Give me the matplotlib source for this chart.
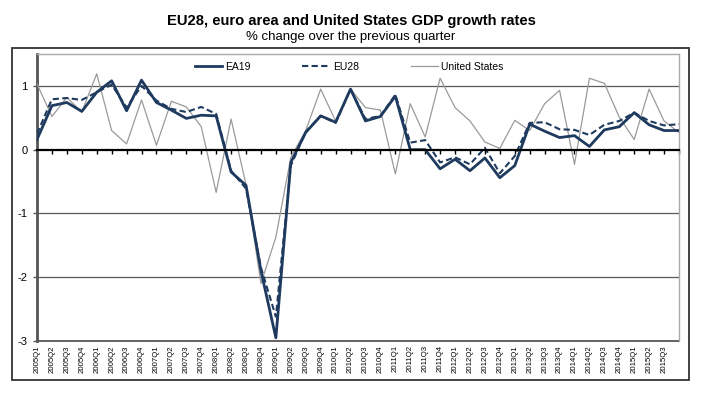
import matplotlib.pyplot as plt
from matplotlib.patches import Rectangle

plt.rcParams['font.family'] = ['Liberation Sans', 'DejaVu Sans']

# quarters 2005Q1 .. 2015Q4 (last one has no label in the original)
quarters = [f'{y}Q{q}' for y in range(2005, 2016) for q in range(1, 5)]
tick_labels = quarters[:-1] + ['']

# % change over previous quarter
ea19 = [0.16, 0.69, 0.74, 0.60, 0.90, 1.08, 0.61, 1.09, 0.74, 0.62, 0.49, 0.54,
        0.53, -0.35, -0.56, -1.90, -2.95, -0.20, 0.27, 0.53, 0.43, 0.95, 0.45, 0.52,
        0.84, 0.00, 0.00, -0.30, -0.15, -0.33, -0.13, -0.44, -0.25, 0.40, 0.29, 0.19,
        0.22, 0.05, 0.31, 0.36, 0.58, 0.39, 0.30, 0.30]
eu28 = [0.25, 0.79, 0.81, 0.78, 0.90, 1.02, 0.66, 1.00, 0.77, 0.64, 0.59, 0.67,
        0.56, -0.33, -0.61, -1.85, -2.62, -0.25, 0.28, 0.53, 0.42, 0.95, 0.48, 0.53,
        0.86, 0.11, 0.15, -0.20, -0.12, -0.23, 0.03, -0.37, -0.10, 0.42, 0.43, 0.32,
        0.31, 0.23, 0.39, 0.45, 0.58, 0.45, 0.38, 0.40]
us = [1.03, 0.52, 0.82, 0.59, 1.19, 0.30, 0.09, 0.78, 0.07, 0.76, 0.67, 0.36,
      -0.67, 0.48, -0.55, -2.10, -1.37, -0.12, 0.30, 0.95, 0.45, 0.95, 0.66, 0.62,
      -0.38, 0.72, 0.20, 1.12, 0.66, 0.45, 0.12, 0.02, 0.46, 0.30, 0.72, 0.93,
      -0.23, 1.12, 1.04, 0.51, 0.16, 0.95, 0.45, 0.27]

x = list(range(len(quarters)))
navy = '#1f3a5f'

fig = plt.figure(figsize=(7.02, 3.99), dpi=100)
ax = fig.add_axes([37 / 702, 1 - 341 / 399, 642 / 702, 287 / 399])

# outer frame around the chart (below the titles)
fig.patches.append(Rectangle((12 / 702, 1 - 380 / 399), 677 / 702, 332 / 399,
                             transform=fig.transFigure, fill=False,
                             edgecolor='#333333', linewidth=1.3))

ax.plot(x, us, color='#9a9a9a', linewidth=0.9, label='United States', zorder=3)
ax.plot(x, eu28, color=navy, linewidth=1.5, linestyle=(0, (3, 1.6)), label='EU28', zorder=4)
ax.plot(x, ea19, color=navy, linewidth=2.0, label='EA19', zorder=5)

ax.set_xlim(0, len(quarters) - 1)
ax.set_ylim(-3, 1.5)
ax.set_yticks([-3, -2, -1, 0, 1])
ax.set_yticklabels(['-3', '-2', '-1', '0', '1'], fontsize=8)
for v in [1, -1, -2]:
    ax.axhline(v, color='#5a5a5a', linewidth=0.9, zorder=1)

# x axis with tick marks sits on the zero line
ax.spines['bottom'].set_position(('data', 0))
ax.spines['bottom'].set_color('black')
ax.spines['bottom'].set_linewidth(1.6)
ax.spines['bottom'].set_zorder(6)
ax.set_xticks(x)
ax.tick_params(axis='x', direction='out', length=3, width=1, labelbottom=False)

ax.spines['left'].set_color('#555555')
ax.spines['left'].set_linewidth(2)
ax.tick_params(axis='y', length=3, width=1, color='#555555', pad=4)
for s in ['top', 'right']:
    ax.spines[s].set_color('#aaaaaa')
    ax.spines[s].set_linewidth(1)

# labels under the plot on a second axis at the bottom
sec = ax.secondary_xaxis('bottom')
sec.set_xticks(x)
sec.set_xticklabels(tick_labels, rotation=90, fontsize=5.6)
sec.tick_params(length=0, pad=3)
sec.spines['bottom'].set_color('#555555')
sec.spines['bottom'].set_linewidth(1.3)

handles, labels = ax.get_legend_handles_labels()
order = [2, 1, 0]
ax.legend([handles[i] for i in order], [labels[i] for i in order],
          loc='center', bbox_to_anchor=(0.486, 0.955), ncol=3, frameon=False,
          fontsize=7.5, handlelength=2.6, columnspacing=5, handletextpad=0.3)

fig.text(0.5, 1 - 21 / 399, 'EU28, euro area and United States GDP growth rates',
         ha='center', va='center', fontsize=10.6, fontweight='bold')
fig.text(0.5, 1 - 37 / 399, '% change over the previous quarter',
         ha='center', va='center', fontsize=9.5)

fig.savefig('out.png', dpi=100)
